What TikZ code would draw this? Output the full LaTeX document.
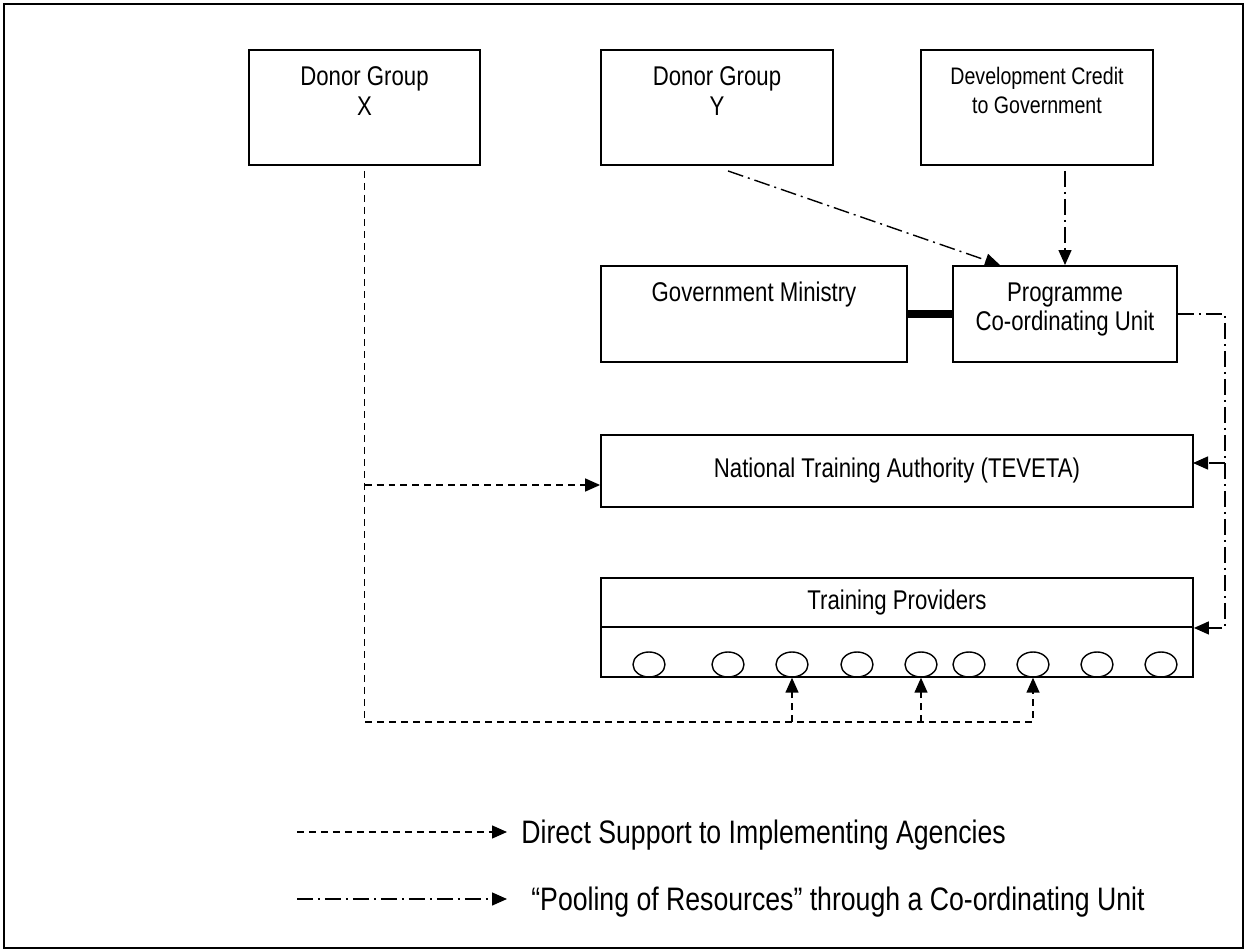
\documentclass[tikz,border=0pt]{standalone}
\usepackage{fontspec}
\setmainfont{Liberation Sans}[FakeStretch=0.82]
\usepackage{tikz}
\usetikzlibrary{arrows.meta, shapes.geometric}
\tikzset{
	box/.style={draw, line width=1.1pt, inner sep=0pt},
	boxtext/.style={anchor=north, inner sep=0pt, align=center, font=\fontsize{15.4}{17}\selectfont},
	ring/.style={draw, ellipse, line width=0.8pt, minimum width=0.64cm, minimum height=0.5cm, inner sep=0pt},
	direct/.style={line width=0.8pt, dash pattern=on 0.14cm off 0.1cm},
	pool/.style={line width=0.8pt, dash pattern=on 0.32cm off 0.1cm on 0.04cm off 0.1cm},
	tip/.style={-{Triangle[length=0.3cm, width=0.26cm]}},
	legend/.style={anchor=base west, inner sep=0pt, font=\fontsize{18.5}{21}\selectfont}
}

\begin{document}
\begin{tikzpicture}[x=0.02cm, y=-0.02cm]
		\useasboundingbox (0, 0) rectangle (1247, 952);
		\draw [line width=1.2pt] (4, 4) rectangle (1243, 948);
		
		% top row
		\node [box, minimum width=4.62cm, minimum height=2.3cm] (dgx) at (364.5, 107.5) {};
		\node [box, minimum width=4.64cm, minimum height=2.3cm] (dgy) at (717, 107.5) {};
		\node [box, minimum width=4.64cm, minimum height=2.3cm] (dc) at (1037, 107.5) {};
		\node [boxtext] (dgxt) at ([yshift=-0.34cm]dgx.north) {Donor Group\\X};
		\node [boxtext] (dgyt) at ([yshift=-0.34cm]dgy.north) {Donor Group\\Y};
		\node [boxtext, font=\fontsize{13.6}{16.5}\selectfont] (dct) at ([yshift=-0.36cm]dc.north) {Development Credit\\to Government};
		
		% ministry and unit
		\node [box, minimum width=6.12cm, minimum height=1.92cm] (gm) at (754, 314) {};
		\node [box, minimum width=4.48cm, minimum height=1.92cm] (pcu) at (1065, 314) {};
		\node [boxtext] (gmt) at ([yshift=-0.34cm]gm.north) {Government Ministry};
		\node [boxtext] (pcut) at ([yshift=-0.34cm]pcu.north) {Programme\\Co-ordinating Unit};
		
		% authority and providers
		\node [box, minimum width=11.84cm, minimum height=1.44cm, font=\fontsize{15.4}{17}\selectfont] (nta) at (897, 471) {National Training Authority (TEVETA)};
		\node [box, minimum width=11.84cm, minimum height=0.98cm, font=\fontsize{15.4}{17}\selectfont] (tp) at (897, 602.5) {Training Providers};
		\node [box, minimum width=11.84cm, minimum height=1cm] (tprow) at (897, 652) {};
		\foreach \n/\x in {1/649, 2/728, 3/792, 4/857, 5/921, 6/969, 7/1033, 8/1097, 9/1161}
			\node [ring] (e\n) at (\x, 664.5) {};
		
		\draw [line width=4.5pt] (gm.east) -- (pcu.west);
		
		% direct support
		\coordinate (bl) at (364.5, 722);
		\coordinate (nb) at (364.5, 485);
		\draw [direct, tip] ([yshift=-0.1cm]dgx.south) -- (bl) -| (e7.south);
		\draw [direct, tip] (bl -| e3.south) -- (e3.south);
		\draw [direct, tip] (bl -| e5.south) -- (e5.south);
		\draw [direct, tip] (nb) -- (nb -| nta.west);
		
		% pooling
		\coordinate (rt) at (1225, 314);
		\coordinate (na) at (1193, 463);
		\draw [pool, tip] ([xshift=0.22cm, yshift=-0.1cm]dgy.south) -- ([xshift=-1.3cm]pcu.north);
		\draw [pool, tip] ([yshift=-0.1cm]dc.south -| pcu.north) -- (pcu.north);
		\draw [pool, tip] (pcu.east) -- (rt) |- (tp.south east);
		\draw [pool, tip] (rt |- na) -- (na);
		
		% legend
		\coordinate (la) at (297, 832);
		\coordinate (lb) at (297, 899);
		\draw [direct, tip] (la) -- ++(210, 0);
		\draw [pool, tip] (lb) -- ++(210, 0);
		\node [legend] (lga) at (521, 843.5) {Direct Support to Implementing Agencies};
		\node [legend] (lgb) at (531, 910.5) {``Pooling of Resources'' through a Co-ordinating Unit};
	\end{tikzpicture}
\end{document}
